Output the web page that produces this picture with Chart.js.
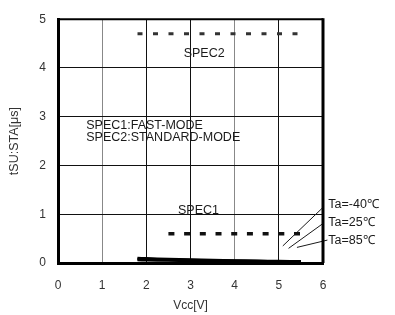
<!DOCTYPE html>
<html>
<head>
<meta charset="utf-8">
<script src="https://cdn.jsdelivr.net/npm/chart.js@4"></script>
<style>
    html, body { margin: 0; padding: 0; background: #fff; }
    #wrap { width: 395px; height: 315px; }
</style>
</head>
<body>
<div id="wrap"><canvas id="chart" width="395" height="315"></canvas></div>
<script>
// data
const vcc = [1.8, 2, 2.5, 3, 3.5, 4, 4.5, 5, 5.5];
const tM40 = [0.095, 0.09, 0.078, 0.067, 0.057, 0.048, 0.041, 0.035, 0.03];
const t25 = [0.08, 0.076, 0.066, 0.057, 0.048, 0.04, 0.034, 0.028, 0.024];
const t85 = [0.065, 0.062, 0.054, 0.047, 0.04, 0.034, 0.028, 0.023, 0.019];

const spec1X = [2.5, 5.5];
const spec1Y = [0.6, 0.6];
const spec2X = [1.8, 5.5];
const spec2Y = [4.7, 4.7];

// leader lines for the Ta labels (from label to curve)
const leaderM40 = [{ x: 6.0, y: 1.14 }, { x: 5.09, y: 0.35 }];
const leader25 = [{ x: 6.0, y: 0.81 }, { x: 5.22, y: 0.30 }];
const leader85 = [{ x: 6.1, y: 0.47 }, { x: 5.41, y: 0.32 }];

const xTicks = [0, 1, 2, 3, 4, 5, 6];
const yTicks = [0, 1, 2, 3, 4, 5];

const labelTexts = ['SPEC2', 'SPEC1', 'SPEC1:FAST-MODE', 'SPEC2:STANDARD-MODE', 'Ta=-40℃', 'Ta=25℃', 'Ta=85℃'];
const labelX = [3.31, 3.18, 0.64, 0.64, 6.12, 6.12, 6.12];
const labelY = [4.29, 1.07, 2.82, 2.57, 1.2, 0.83, 0.47];
const labelAlign = ['center', 'center', 'left', 'left', 'left', 'left', 'left'];

const FONT = '"Liberation Sans", Arial, sans-serif';
const INK = '#1a1a1a';

function pts(xs, ys) {
    return xs.map((x, i) => ({ x: x, y: ys[i] }));
}

function curve(ys) {
    return {
        data: pts(vcc, ys),
        borderColor: '#000',
        borderWidth: 3,
        pointRadius: 0,
        showLine: true,
        tension: 0.3
    };
}

function leader(data) {
    return {
        data: data,
        borderColor: INK,
        borderWidth: 1,
        pointRadius: 0,
        showLine: true,
        clip: false
    };
}

const textPlugin = {
    id: 'textLabels',
    afterDatasetsDraw(chart) {
        const ctx = chart.ctx;
        const xs = chart.scales.x;
        const ys = chart.scales.y;
        ctx.save();
        ctx.fillStyle = INK;
        ctx.font = '12.5px ' + FONT;
        ctx.textBaseline = 'middle';
        labelTexts.forEach((t, i) => {
            ctx.textAlign = labelAlign[i];
            ctx.fillText(t, xs.getPixelForValue(labelX[i]), ys.getPixelForValue(labelY[i]));
        });
        ctx.restore();
    }
};

const framePlugin = {
    id: 'frame',
    afterDraw(chart) {
        const a = chart.chartArea;
        const ctx = chart.ctx;
        ctx.save();
        ctx.strokeStyle = '#000';
        ctx.lineWidth = 2;
        ctx.beginPath();
        ctx.moveTo(a.left, a.top);
        ctx.lineTo(a.right, a.top);
        ctx.stroke();
        ctx.lineWidth = 3;
        ctx.beginPath();
        ctx.moveTo(a.right, a.top - 1);
        ctx.lineTo(a.right, a.bottom);
        ctx.stroke();
        ctx.restore();
    }
};

new Chart(document.getElementById('chart'), {
    type: 'scatter',
    data: {
        datasets: [
            curve(tM40),
            curve(t25),
            curve(t85),
            {
                data: pts(spec2X, spec2Y),
                borderColor: '#333',
                borderWidth: 3,
                borderDash: [5, 10.5],
                pointRadius: 0,
                showLine: true
            },
            {
                data: pts(spec1X, spec1Y),
                borderColor: '#111',
                borderWidth: 3.5,
                borderDash: [6, 9.7],
                pointRadius: 0,
                showLine: true
            },
            leader(leaderM40),
            leader(leader25),
            leader(leader85)
        ]
    },
    options: {
        responsive: false,
        animation: false,
        events: [],
        layout: { padding: { top: 15, right: 72, left: 0, bottom: 0 } },
        plugins: {
            legend: { display: false },
            tooltip: { enabled: false }
        },
        scales: {
            x: {
                type: 'linear',
                min: 0,
                max: 6,
                afterBuildTicks: s => { s.ticks = xTicks.map(v => ({ value: v })); },
                afterFit: s => { s.height = 52; },
                grid: {
                    drawTicks: false,
                    lineWidth: 1,
                    color: c => (c.tick && (c.tick.value === 1 || c.tick.value === 4)) ? '#888' : '#111'
                },
                border: { color: '#000', width: 3 },
                ticks: { padding: 15, color: '#333', font: { family: FONT, size: 12 } },
                title: {
                    display: true,
                    text: 'Vcc[V]',
                    color: '#333',
                    font: { family: FONT, size: 12 },
                    padding: { top: 4, bottom: 2 }
                }
            },
            y: {
                type: 'linear',
                min: 0,
                max: 5,
                afterBuildTicks: s => { s.ticks = yTicks.map(v => ({ value: v })); },
                afterFit: s => { s.width = 58; },
                grid: { drawTicks: false, lineWidth: 1, color: '#111' },
                border: { color: '#000', width: 3 },
                ticks: { padding: 12, color: '#333', font: { family: FONT, size: 12 } },
                title: {
                    display: true,
                    text: 'tSU:STA[μs]',
                    color: '#333',
                    font: { family: FONT, size: 12.5 },
                    padding: { top: 7, bottom: 0 }
                }
            }
        }
    },
    plugins: [textPlugin, framePlugin]
});
</script>
</body>
</html>
